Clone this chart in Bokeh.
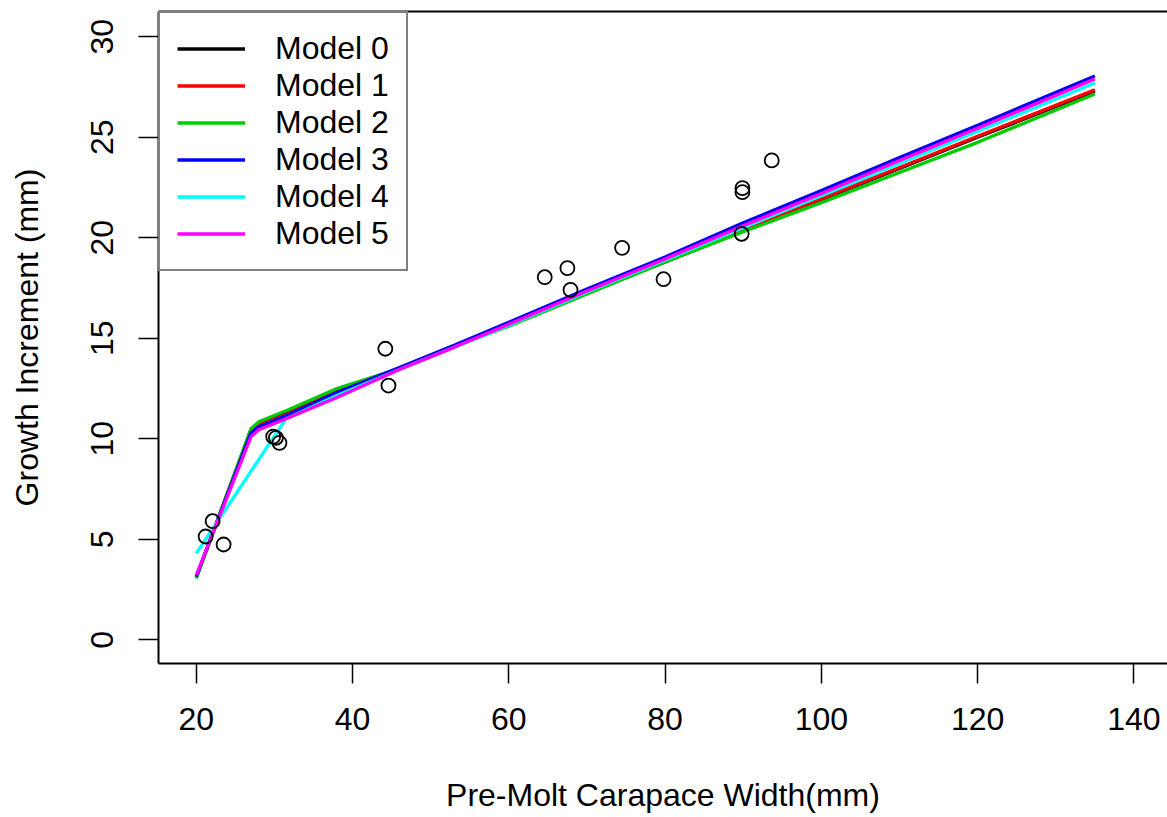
from bokeh.plotting import figure
from bokeh.models import Legend, LegendItem, LinearAxis, FixedTicker, Range1d
from bokeh.embed import file_html
from bokeh.resources import INLINE

# Observed data: pre-molt carapace width (mm) vs growth increment (mm)
obs_width = [21.2, 22.1, 23.5, 29.85, 30.2, 30.65, 44.2, 44.6, 64.6, 67.5,
             67.9, 74.5, 79.8, 89.8, 89.9, 89.9, 93.65]
obs_growth = [5.14, 5.90, 4.74, 10.11, 10.05, 9.80, 14.48, 12.65, 18.04, 18.49,
              17.41, 19.50, 17.94, 20.20, 22.27, 22.47, 23.85]

# Fitted model curves, evaluated at these widths
model_x = [20, 27, 28, 31.5, 38, 46, 53, 60, 70, 80, 90, 100, 110, 120, 135]
model0 = [3.10, 10.45, 10.75, 11.25, 12.40, 13.50, 14.60, 15.65, 17.25, 18.80, 20.35, 21.90, 23.45, 25.00, 27.30]
model1 = [3.10, 10.40, 10.70, 11.20, 12.35, 13.50, 14.60, 15.65, 17.25, 18.85, 20.40, 21.95, 23.50, 25.05, 27.36]
model2 = [3.05, 10.50, 10.85, 11.40, 12.50, 13.50, 14.60, 15.60, 17.20, 18.80, 20.30, 21.75, 23.25, 24.75, 27.16]
model3 = [3.15, 10.30, 10.60, 11.15, 12.30, 13.55, 14.65, 15.80, 17.45, 19.05, 20.75, 22.35, 24.00, 25.60, 28.05]
model4 = [4.30, 8.38, 8.96, 11.00, 12.15, 13.45, 14.55, 15.65, 17.30, 18.90, 20.50, 22.10, 23.70, 25.30, 27.70]
model5 = [3.20, 10.10, 10.45, 11.00, 12.05, 13.45, 14.55, 15.70, 17.35, 18.95, 20.60, 22.20, 23.85, 25.45, 27.90]

model_names = ["Model 0", "Model 1", "Model 2", "Model 3", "Model 4", "Model 5"]
model_colors = ["#000000", "#FF0000", "#00CD00", "#0000FF", "#00FFFF", "#FF00FF"]

x_ticks = [20, 40, 60, 80, 100, 120, 140]
y_ticks = [0, 5, 10, 15, 20, 25, 30]

FONT = "Liberation Sans"
FS = "32px"

p = figure(frame_width=1009, frame_height=652,
           x_range=Range1d(15.17, 144.3), y_range=Range1d(-1.18, 31.26),
           output_backend="svg", toolbar_location=None,
           min_border_left=158, min_border_top=11, min_border_right=0, min_border_bottom=0)

p.grid.visible = False
p.outline_line_color = None
p.background_fill_color = "white"
p.border_fill_color = "white"

for ax, ticks in ((p.xaxis[0], x_ticks), (p.yaxis[0], y_ticks)):
    ax.ticker = FixedTicker(ticks=ticks)
    ax.axis_line_width = 2
    ax.axis_line_color = "black"
    ax.major_tick_line_width = 1.5
    ax.major_tick_line_color = "black"
    ax.major_tick_out = 20
    ax.major_tick_in = 0
    ax.minor_tick_out = 0
    ax.minor_tick_in = 0
    ax.major_label_text_font = FONT
    ax.major_label_text_font_size = FS
    ax.major_label_text_color = "black"
    ax.axis_label_text_font = FONT
    ax.axis_label_text_font_size = FS
    ax.axis_label_text_font_style = "normal"
    ax.axis_label_text_color = "black"

p.xaxis.axis_label = "Pre-Molt Carapace Width(mm)"
p.yaxis.axis_label = "Growth Increment (mm)"
p.xaxis.major_label_standoff = 24
p.xaxis.axis_label_standoff = 44
p.yaxis.major_label_standoff = 25
p.yaxis.axis_label_standoff = 44
p.yaxis.major_label_orientation = "vertical"

# top border of the box
top = LinearAxis(ticker=FixedTicker(ticks=[]), axis_line_width=2, axis_line_color="black",
                 major_tick_out=0, major_tick_in=0, minor_tick_out=0, minor_tick_in=0,
                 major_label_standoff=0, axis_label_standoff=0)
p.add_layout(top, "above")

ys = [model0, model1, model2, model3, model4, model5]
items = []
for name, col, yv in zip(model_names, model_colors, ys):
    r = p.line(model_x, yv, line_color=col, line_width=3.3)
    items.append(LegendItem(label=name, renderers=[r]))

p.scatter(obs_width, obs_growth, marker="circle", size=14,
          fill_color=None, line_color="black", line_width=1.8)

legend = Legend(items=items, location="top_left", margin=0, padding=17,
                spacing=0, glyph_width=68, glyph_height=37, label_height=37,
                label_standoff=30, label_text_font=FONT, label_text_font_size=FS,
                label_text_color="black",
                border_line_color="black", border_line_width=2,
                background_fill_color="white", background_fill_alpha=1.0)
p.add_layout(legend)

open("out.html", "w").write(file_html(p, INLINE))
